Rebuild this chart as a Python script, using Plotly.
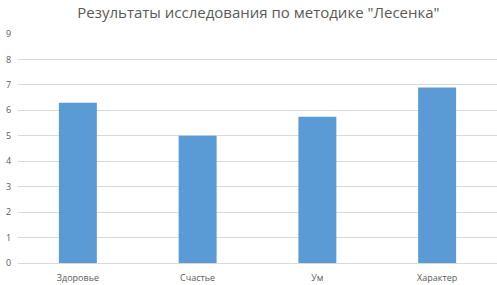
import plotly.graph_objects as go

categories = ["Здоровье", "Счастье", "Ум", "Характер"]
values = [6.3, 5.0, 5.75, 6.9]
y_ticks = list(range(0, 10))

fig = go.Figure(go.Bar(x=categories, y=values, marker=dict(color="#5B9BD5", line=dict(width=0)),
                       width=0.317))
fig.update_layout(
    width=497, height=285,
    margin=dict(l=18, r=0, t=34, b=22),
    paper_bgcolor="white", plot_bgcolor="white",
    title=dict(text='Результаты исследования по методике "Лесенка"', x=0.52, xanchor="center",
               y=0.955, yanchor="middle",
               font=dict(family="Open Sans, Liberation Sans, sans-serif", size=15, color="#595959")),
    font=dict(family="Open Sans, Liberation Sans, sans-serif", size=9, color="#595959"),
    showlegend=False,
)
fig.update_yaxes(range=[0, 9], tickvals=y_ticks, showgrid=True, gridcolor="#D9D9D9", gridwidth=1,
                 zeroline=True, zerolinecolor="#D9D9D9", zerolinewidth=1,
                 ticks="outside", ticklen=4, tickcolor="rgba(0,0,0,0)",
                 showline=False, tickfont=dict(size=9, color="#595959"))
fig.update_xaxes(showline=False, ticks="outside", ticklen=6, tickcolor="rgba(0,0,0,0)",
                 tickfont=dict(size=9, color="#595959"))
fig.write_html("out.html")
